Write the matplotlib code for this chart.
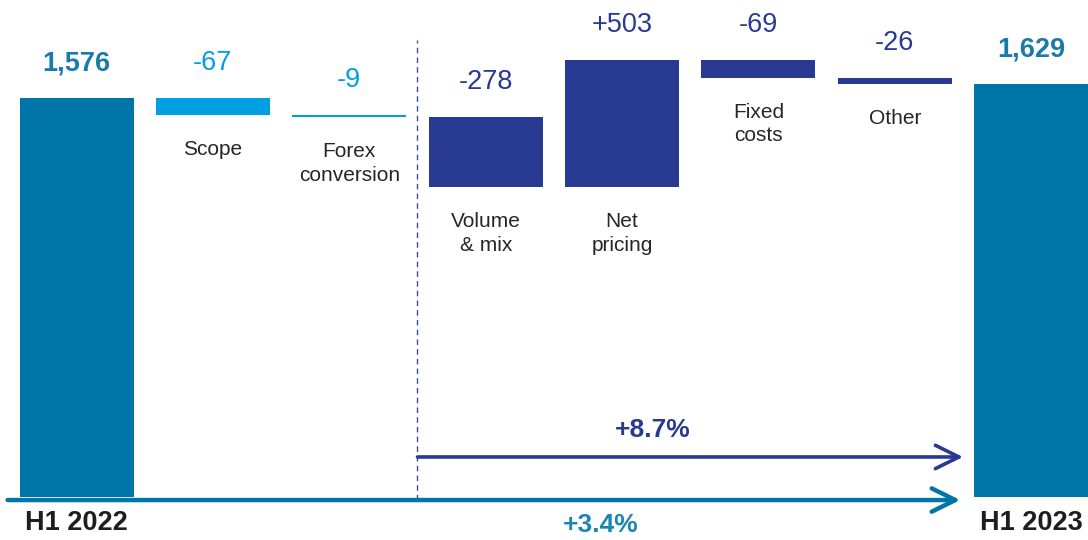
import matplotlib

matplotlib.use("Agg")
import matplotlib.pyplot as plt
import numpy as np

plt.rcParams["font.family"] = ["Liberation Sans", "DejaVu Sans"]

# waterfall: H1 2022 -> H1 2023
categories = ["H1 2022", "Scope", "Forex\nconversion", "Volume\n& mix", "Net\npricing",
              "Fixed\ncosts", "Other", "H1 2023"]
values = [1576, -67, -9, -278, 503, -69, -26, 1629]
value_labels = ["1,576", "-67", "-9", "-278", "+503", "-69", "-26", "1,629"]
is_total = [True, False, False, False, False, False, False, True]
growth_organic = "+8.7%"
growth_total = "+3.4%"

TEAL = "#0076A8"
LIGHT = "#009FE3"
NAVY = "#283A92"
bar_colors = [TEAL, LIGHT, LIGHT, NAVY, NAVY, NAVY, NAVY, TEAL]

# bar extents
bottoms, heights = [], []
running = 0
for v, tot in zip(values, is_total):
    if tot:
        bottoms.append(0)
        heights.append(v)
        running = v
    else:
        lo = min(running, running + v)
        bottoms.append(lo)
        heights.append(abs(v))
        running += v
bottoms = np.array(bottoms, dtype=float)
heights = np.array(heights, dtype=float)
tops = bottoms + heights

fig = plt.figure(figsize=(10.88, 5.40), dpi=100)
ax = fig.add_axes([0, 0, 1, 1])
ax.set_xlim(-0.561, 7.416)
ax.set_ylim(-169.8, 1962.1)
ax.axis("off")

x = np.arange(len(categories))
ax.bar(x, heights, bottom=bottoms, width=0.836, color=bar_colors, linewidth=0, zorder=2)

for i, (lab, cat) in enumerate(zip(value_labels, categories)):
    ax.annotate(lab, (x[i], tops[i]), xytext=(0, 20), textcoords="offset points",
                ha="center", va="baseline", fontsize=19.5,
                fontweight="bold" if is_total[i] else "normal",
                color=bar_colors[i] if not is_total[i] else "#1A7BAA")
    if is_total[i]:
        ax.text(x[i], -103, cat, ha="center", va="center", fontsize=19.5,
                fontweight="bold", color="#1E1E1E")
    else:
        ax.annotate(cat, (x[i], bottoms[i]), xytext=(0, -18), textcoords="offset points",
                    ha="center", va="top", fontsize=15, color="#262626",
                    linespacing=1.3)

# split between external and organic effects
ax.plot([2.5, 2.5], [-12, 1804], color="#3A4FA0", linewidth=1.0,
        linestyle=(0, (4, 3)), zorder=1)

# growth arrows
ax.annotate("", xy=(6.5, 158), xytext=(2.5, 158),
            arrowprops=dict(arrowstyle="->,head_length=0.85,head_width=0.42",
                            color=NAVY, linewidth=2.6, shrinkA=0, shrinkB=0,
                            mutation_scale=20))
ax.text(4.227, 264, growth_organic, ha="center", va="center", fontsize=19,
        fontweight="bold", color=NAVY)

ax.annotate("", xy=(6.48, -12), xytext=(-0.505, -12),
            arrowprops=dict(arrowstyle="->,head_length=0.85,head_width=0.42",
                            color=TEAL, linewidth=3.2, shrinkA=0, shrinkB=0,
                            mutation_scale=20), zorder=3)
ax.text(3.845, -110, growth_total, ha="center", va="center", fontsize=19,
        fontweight="bold", color="#1A86B5")

fig.savefig("out.png", dpi=100)
